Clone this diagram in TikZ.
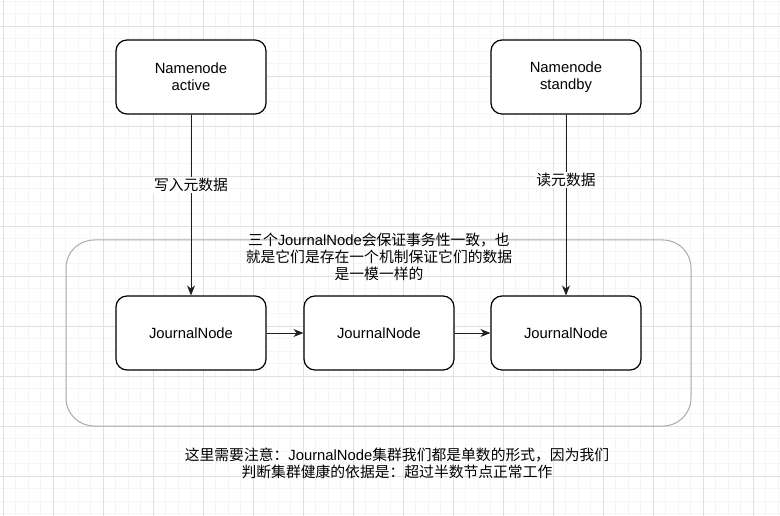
\documentclass[tikz,border=0pt]{standalone}
\usepackage{fontspec}
\setmainfont{Liberation Sans}
\newfontfamily\cjk{Noto Sans CJK SC}
\usetikzlibrary{arrows.meta}
\newcommand\zh[1]{{\cjk #1}}
\definecolor{gridmajor}{RGB}{224,224,224}
\definecolor{gridminor}{RGB}{245,245,245}
\definecolor{groupline}{RGB}{170,170,170}
\definecolor{arrowcol}{RGB}{30,30,30}
\begin{document}
\begin{tikzpicture}[x=1pt,y=-1pt,
  box/.style={draw=black, line width=1.2pt, rounded corners=11pt, fill=white,
    minimum width=150pt, minimum height=74pt, align=center, inner sep=0pt,
    font=\fontsize{14.8}{17}\selectfont},
  group/.style={draw=groupline, line width=1pt, rounded corners=28pt,
    minimum width=625pt, minimum height=186pt, inner sep=0pt},
  conn/.style={draw=arrowcol, line width=1pt, -{Stealth[length=10pt,width=8pt]}},
  lbl/.style={fill=white, inner sep=1pt, font=\fontsize{14.8}{17}\selectfont},
  note/.style={align=center, inner sep=0pt, font=\fontsize{14.8}{17}\selectfont}]
\useasboundingbox (0,0) rectangle (780,516);
\fill[white] (0,0) rectangle (780,516);
% grid
\foreach \x in {3,15.5,...,780} \draw[gridminor, line width=0.6pt] (\x,0) -- (\x,516);
\foreach \y in {1,13.5,...,516} \draw[gridminor, line width=0.6pt] (0,\y) -- (780,\y);
\foreach \x in {3,53,...,780} \draw[gridmajor, line width=0.8pt] (\x,0) -- (\x,516);
\foreach \y in {26,76,...,516} \draw[gridmajor, line width=0.8pt] (0,\y) -- (780,\y);
% group container
\node[group] (grp) at (378.5,333) {};
\node[note, anchor=north] (grptext) at (379,233) {\zh{三个}JournalNode\zh{会保证事务性一致，也}\\\zh{就是它们是存在一个机制保证它们的数据}\\\zh{是一模一样的}};
% nodes
\node[box] (nna) at (191,77) {Namenode\\active};
\node[box] (nns) at (566,77) {Namenode\\standby};
\node[box] (jn1) at (191,333) {JournalNode};
\node[box] (jn2) at (379,333) {JournalNode};
\node[box] (jn3) at (566,333) {JournalNode};
% connectors
\draw[conn] (nna) -- node[lbl, pos=0.39] (l1) {\zh{写入元数据}} (jn1);
\draw[conn] (nns) -- node[lbl, pos=0.36] (l2) {\zh{读元数据}} (jn3);
\draw[conn] (jn1) -- (jn2);
\draw[conn] (jn2) -- (jn3);
% bottom note
\node[note] (bottom) at (397,463.5) {\zh{这里需要注意：}JournalNode\zh{集群我们都是单数的形式，因为我们}\\\zh{判断集群健康的依据是：超过半数节点正常工作}};
\end{tikzpicture}
\end{document}
